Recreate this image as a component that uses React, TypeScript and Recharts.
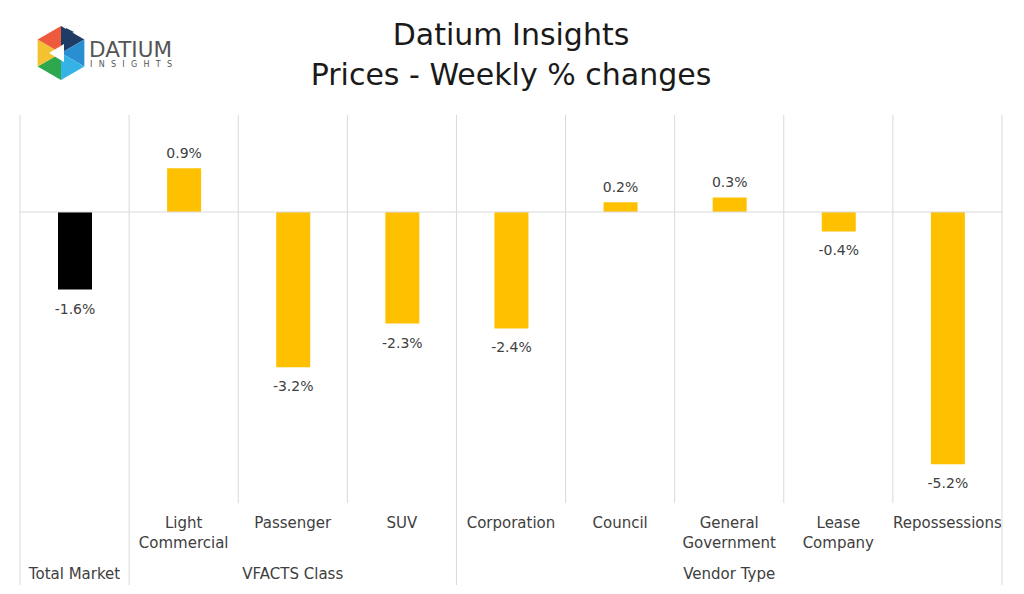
import { BarChart, Bar, XAxis, YAxis, CartesianGrid, ReferenceLine, Cell, LabelList } from 'recharts'

const categories = ['Total Market', 'Light Commercial', 'Passenger', 'SUV', 'Corporation', 'Council', 'General Government', 'Lease Company', 'Repossessions']
const tickLines = [[], ['Light', 'Commercial'], ['Passenger'], ['SUV'], ['Corporation'], ['Council'], ['General', 'Government'], ['Lease', 'Company'], ['Repossessions']]
const weeklyChange = [-1.6, 0.9, -3.2, -2.3, -2.4, 0.2, 0.3, -0.4, -5.2]
const groups = [
  { label: 'Total Market', start: 0, end: 0 },
  { label: 'VFACTS Class', start: 1, end: 3 },
  { label: 'Vendor Type', start: 4, end: 8 },
]

const data = categories.map((name, i) => ({ name, value: weeklyChange[i] }))

const W = 1024
const H = 594
const M = { top: 115, right: 22, bottom: 0, left: 20 }
const AXIS_H = 91
const PLOT_BOTTOM = H - M.bottom - AXIS_H
const BAND = (W - M.left - M.right) / categories.length
const FONT = '"DejaVu Sans", sans-serif'
const TEXT = '#404040'
const GRID = '#d9d9d9'

function CategoryTick({ x, index }: any) {
  const lines = tickLines[index] || []
  const group = groups.find((g) => index === Math.floor((g.start + g.end) / 2))
  const groupCenter = group ? x + ((group.start + group.end) / 2 - index) * BAND : x
  const startsGroup = groups.some((g) => g.start === index)
  const isLast = index === categories.length - 1
  return (
    <g>
      {lines.map((t: string, i: number) => (
        <text key={i} x={x} y={PLOT_BOTTOM + 25 + i * 20} textAnchor="middle" fontSize={15} fontFamily={FONT} fill={TEXT}>{t}</text>
      ))}
      {group && (
        <text x={groupCenter} y={PLOT_BOTTOM + 76} textAnchor="middle" fontSize={15} fontFamily={FONT} fill={TEXT}>{group.label}</text>
      )}
      {startsGroup && <line x1={x - BAND / 2} x2={x - BAND / 2} y1={PLOT_BOTTOM} y2={PLOT_BOTTOM + 82} stroke={GRID} />}
      {isLast && <line x1={x + BAND / 2} x2={x + BAND / 2} y1={PLOT_BOTTOM} y2={PLOT_BOTTOM + 82} stroke={GRID} />}
    </g>
  )
}

function ValueLabel({ x, y, width, height, value }: any) {
  const top = Math.min(y, y + height)
  const bottom = Math.max(y, y + height)
  const neg = value < 0
  return (
    <text x={x + width / 2} y={neg ? bottom + 24 : top - 10} textAnchor="middle" fontSize={14} fontFamily={FONT} fill={TEXT}>
      {`${value.toFixed(1)}%`}
    </text>
  )
}

function Logo() {
  const cx = 61
  const cy = 53
  const r = 27
  const pts = Array.from({ length: 6 }, (_, i) => {
    const a = (Math.PI / 3) * i - Math.PI / 2
    return [cx + r * Math.cos(a), cy + r * Math.sin(a)]
  })
  const colors = ['#1f3c66', '#2a8fd1', '#36b3e6', '#2ea84f', '#f2c230', '#ef5a3c']
  return (
    <g>
      {pts.map((p, i) => {
        const q = pts[(i + 1) % 6]
        return <polygon key={i} points={`${cx},${cy} ${p[0]},${p[1]} ${q[0]},${q[1]}`} fill={colors[i]} />
      })}
      <polygon points={`${cx - 12},${cy} ${cx + 3},${cy - 9} ${cx + 3},${cy + 9}`} fill="#ffffff" />
      <polygon points={`${cx + 5},${cy - 25} ${cx + 13},${cy - 21} ${cx + 5},${cy - 17}`} fill="#1f3c66" />
      <text x={89} y={57} fontSize={22} fontFamily={FONT} fill="#555555" textLength={83} lengthAdjust="spacingAndGlyphs">DATIUM</text>
      <text x={90} y={67} fontSize={8} fontFamily={FONT} fill="#555555" textLength={82}>INSIGHTS</text>
    </g>
  )
}

export default function App() {
  return (
    <div style={{ position: 'absolute', left: 0, top: 0, width: W, height: H, background: '#ffffff' }}>
      <svg width={W} height={110} style={{ position: 'absolute', left: 0, top: 0 }}>
        <Logo />
        <text x={511} y={45} textAnchor="middle" fontSize={30} fontFamily={FONT} fill="#1a1a1a">Datium Insights</text>
        <text x={511} y={85} textAnchor="middle" fontSize={30} fontFamily={FONT} fill="#1a1a1a">Prices - Weekly % changes</text>
      </svg>
      <div style={{ position: 'absolute', left: 0, top: 0 }}>
        <BarChart width={W} height={H} data={data} margin={M} barSize={34}>
          <CartesianGrid
            horizontal={false}
            stroke={GRID}
            verticalCoordinatesGenerator={({ offset }: any) =>
              Array.from({ length: categories.length + 1 }, (_, i) => offset.left + (i * offset.width) / categories.length)
            }
          />
          <XAxis dataKey="name" height={AXIS_H} axisLine={false} tickLine={false} interval={0} tick={<CategoryTick />} />
          <YAxis hide domain={[-6, 2]} />
          <ReferenceLine y={0} stroke={GRID} />
          <Bar dataKey="value" isAnimationActive={false}>
            {data.map((d, i) => (
              <Cell key={d.name} fill={i === 0 ? '#000000' : '#ffc000'} />
            ))}
            <LabelList dataKey="value" content={<ValueLabel />} />
          </Bar>
        </BarChart>
      </div>
    </div>
  )
}
